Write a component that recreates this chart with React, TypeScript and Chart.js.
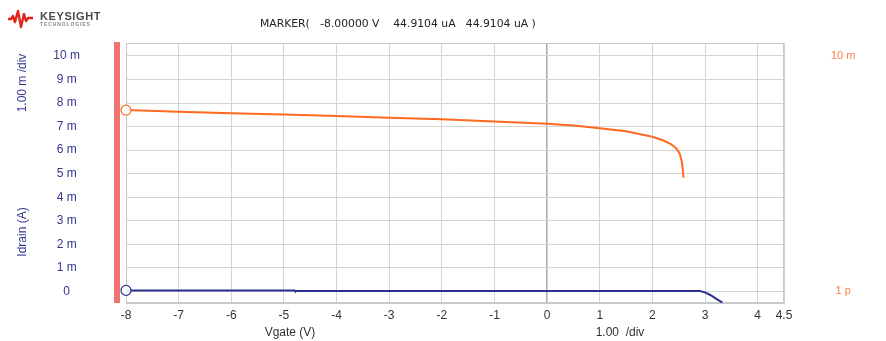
import React, { useEffect, useRef } from 'react';
import { Chart, registerables } from 'chart.js';

Chart.register(...registerables);

// ---- Data ----
const xTickValues = [-8, -7, -6, -5, -4, -3, -2, -1, 0, 1, 2, 3, 4, 4.5];
const yTickValues = [0, 1, 2, 3, 4, 5, 6, 7, 8, 9, 10];
const y2TickValues = [0, 10];

// Orange trace (Idrain, mA) vs Vgate (V)
const vgateOrange = [-8, -7, -6, -5, -4, -3, -2, -1, 0, 0.5, 1, 1.5, 2, 2.2, 2.35, 2.45, 2.52, 2.56, 2.58, 2.59];
const idrainOrange = [7.7, 7.63, 7.57, 7.51, 7.45, 7.38, 7.31, 7.22, 7.12, 7.05, 6.93, 6.8, 6.57, 6.42, 6.26, 6.08, 5.85, 5.5, 5.1, 4.83];

// Blue trace (Idrain, mA) vs Vgate (V)
const vgateBlue = [-8, -4.8, -4.79, 2.9, 3.0, 3.1, 3.2, 3.33];
const idrainBlue = [0.045, 0.045, 0.02, 0.02, -0.04, -0.15, -0.29, -0.47];

const markerText = 'MARKER(   -8.00000 V    44.9104 uA   44.9104 uA )';

const NAVY = '#34358f';
const ORANGE = '#ff6a1f';
const FONT = "'Liberation Sans', Arial, sans-serif";

const decorPlugin = {
  id: 'decor',
  beforeDatasetsDraw(chart: any) {
    const { ctx, chartArea } = chart;
    ctx.save();
    ctx.strokeStyle = '#c8c8c8';
    ctx.lineWidth = 1;
    ctx.strokeRect(chartArea.left + 0.5, chartArea.top + 0.5, chartArea.right - chartArea.left - 1, chartArea.bottom - chartArea.top - 1);
    ctx.restore();
  },
  afterDraw(chart: any) {
    const { ctx, chartArea } = chart;
    ctx.save();
    // red bar left of plot
    ctx.fillStyle = '#f07373';
    ctx.fillRect(chartArea.left - 12, chartArea.top - 1, 6, chartArea.bottom - chartArea.top + 1);

    // logo wave
    ctx.strokeStyle = '#e2231a';
    ctx.lineWidth = 2.4;
    ctx.lineJoin = 'round';
    ctx.beginPath();
    const pts = [[8, 19], [11, 19], [13, 16], [15, 22], [18, 11], [21, 27], [24, 14], [26, 21], [28, 18], [33, 18]];
    pts.forEach((p, i) => (i ? ctx.lineTo(p[0], p[1]) : ctx.moveTo(p[0], p[1])));
    ctx.stroke();
    ctx.fillStyle = '#4a4a4a';
    ctx.font = `bold 11px ${FONT}`;
    ctx.textBaseline = 'alphabetic';
    ctx.textAlign = 'left';
    (ctx as any).letterSpacing = '0.6px';
    ctx.fillText('KEYSIGHT', 40, 20);
    ctx.fillStyle = '#8a8a8a';
    ctx.font = `bold 5px ${FONT}`;
    (ctx as any).letterSpacing = '0.9px';
    ctx.fillText('TECHNOLOGIES', 40, 26);
    (ctx as any).letterSpacing = '0px';

    // marker text
    ctx.fillStyle = '#222';
    ctx.font = `10.8px 'DejaVu Sans', sans-serif`;
    ctx.textBaseline = 'middle';
    ctx.fillText(markerText, 260, 24);

    // x axis titles
    ctx.font = `12px ${FONT}`;
    ctx.fillStyle = '#333';
    ctx.textAlign = 'center';
    ctx.fillText('Vgate (V)', 290, 333);
    ctx.fillText('1.00  /div', 620, 333);

    // left axis titles (rotated)
    ctx.fillStyle = NAVY;
    ctx.save();
    ctx.translate(23, 83);
    ctx.rotate(-Math.PI / 2);
    ctx.fillText('1.00 m /div', 0, 0);
    ctx.restore();
    ctx.save();
    ctx.translate(23, 232);
    ctx.rotate(-Math.PI / 2);
    ctx.fillText('Idrain (A)', 0, 0);
    ctx.restore();
    ctx.restore();
  },
};

export default function App() {
  const ref = useRef<HTMLCanvasElement>(null);
  useEffect(() => {
    if (!ref.current) return;
    const orangeData = vgateOrange.map((x, i) => ({ x, y: idrainOrange[i] }));
    const blueData = vgateBlue.map((x, i) => ({ x, y: idrainBlue[i] }));
    const chart = new Chart(ref.current, {
      type: 'line',
      data: {
        datasets: [
          {
            data: orangeData,
            borderColor: ORANGE,
            borderWidth: 2,
            pointRadius: orangeData.map((_, i) => (i === 0 ? 5 : 0)),
            pointBorderColor: ORANGE,
            pointBackgroundColor: 'rgba(255,255,255,0.9)',
            pointBorderWidth: 1.2,
            tension: 0,
            clip: false,
            yAxisID: 'y',
          },
          {
            data: blueData,
            borderColor: '#2b2f8e',
            borderWidth: 2,
            pointRadius: blueData.map((_, i) => (i === 0 ? 5 : 0)),
            pointBorderColor: '#2b2f8e',
            pointBackgroundColor: 'rgba(255,255,255,0.9)',
            pointBorderWidth: 1.2,
            tension: 0,
            clip: { left: 10, top: 0, right: 0, bottom: 0 },
            yAxisID: 'y',
          },
        ],
      },
      options: {
        animation: false,
        responsive: false,
        maintainAspectRatio: false,
        layout: { padding: { top: 43, left: 0, right: 0, bottom: 0 } },
        plugins: { legend: { display: false }, title: { display: false }, tooltip: { enabled: false } },
        scales: {
          x: {
            type: 'linear',
            min: -8,
            max: 4.5,
            afterBuildTicks: (s: any) => { s.ticks = xTickValues.map((v) => ({ value: v })); },
            afterFit: (s: any) => { s.height = 38; s.paddingLeft = 0; s.paddingRight = 0; },
            grid: {
              drawTicks: false,
              color: (c: any) => (c.tick && c.tick.value === 0 ? '#a8a8a8' : '#d4d4d4'),
              lineWidth: (c: any) => (c.tick && c.tick.value === 0 ? 1.5 : 1),
            },
            border: { display: true, color: '#c8c8c8' },
            ticks: {
              autoSkip: false,
              maxRotation: 0,
              padding: 5,
              color: '#333',
              font: { family: FONT, size: 12 },
              callback: (v: any) => String(v),
            },
          },
          y: {
            type: 'linear',
            position: 'left',
            min: -0.49,
            max: 10.55,
            afterBuildTicks: (s: any) => { s.ticks = yTickValues.map((v) => ({ value: v })); },
            afterFit: (s: any) => { s.width = 126; s.paddingTop = 0; s.paddingBottom = 0; },
            grid: { drawTicks: false, color: '#d4d4d4' },
            border: { display: true, color: '#c8c8c8' },
            ticks: {
              autoSkip: false,
              crossAlign: 'center',
              padding: 46,
              color: NAVY,
              font: { family: FONT, size: 12 },
              callback: (v: any) => (v === 0 ? '0' : `${v} m`),
            },
          },
          y2: {
            type: 'linear',
            position: 'right',
            min: -0.49,
            max: 10.55,
            afterBuildTicks: (s: any) => { s.ticks = y2TickValues.map((v) => ({ value: v })); },
            afterFit: (s: any) => { s.width = 102; s.paddingTop = 0; s.paddingBottom = 0; },
            grid: { display: false, drawTicks: false },
            border: { display: false },
            ticks: {
              autoSkip: false,
              crossAlign: 'center',
              padding: 47,
              color: '#ff8040',
              font: { family: FONT, size: 11 },
              callback: (v: any) => (v === 10 ? '10 m' : v === 0 ? '1 p' : ''),
            },
          },
        },
      } as any,
      plugins: [decorPlugin],
    });
    return () => chart.destroy();
  }, []);
  return (
    <div style={{ position: 'fixed', left: 0, top: 0, width: 886, height: 341, background: '#fff' }}>
      <canvas ref={ref} width={886} height={341} style={{ width: 886, height: 341 }} />
    </div>
  );
}
